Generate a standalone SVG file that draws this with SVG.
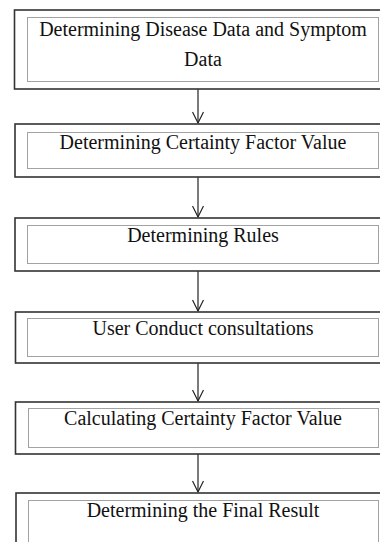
<svg xmlns="http://www.w3.org/2000/svg" width="380" height="542" viewBox="0 0 380 542">
<style>
.outer{fill:#fff;stroke:#333;stroke-width:1.6}
.inner{fill:none;stroke:#444;stroke-width:1;stroke-dasharray:1 1}
.t{font-family:"Liberation Serif","Times New Roman",serif;font-size:20px;fill:#111;text-anchor:middle}
.c{stroke:#222;stroke-width:1.2;fill:none}
</style>
<defs>
<marker id="ah" markerWidth="14" markerHeight="12" refX="12" refY="6" orient="auto" markerUnits="userSpaceOnUse">
<path d="M1,0.5 L12,6 L1,11.5" fill="none" stroke="#222" stroke-width="1.2"/>
</marker>
</defs>
<rect width="380" height="542" fill="#fff"/>
<g id="connectors">
<line class="c" x1="198" y1="89" x2="198" y2="123" marker-end="url(#ah)"/>
<line class="c" x1="198" y1="177" x2="198" y2="217" marker-end="url(#ah)"/>
<line class="c" x1="198" y1="271" x2="198" y2="311" marker-end="url(#ah)"/>
<line class="c" x1="198" y1="363" x2="198" y2="401" marker-end="url(#ah)"/>
<line class="c" x1="198" y1="454" x2="198" y2="492" marker-end="url(#ah)"/>
</g>
<g id="node1">
<rect class="outer" x="14.5" y="10" width="380" height="79"/>
<rect class="inner" x="27.5" y="17.5" width="351" height="64"/>
<text class="t" x="203" y="36">Determining Disease Data and Symptom</text>
<text class="t" x="203" y="66">Data</text>
</g>
<g id="node2">
<rect class="outer" x="15" y="124" width="380" height="53"/>
<rect class="inner" x="27.5" y="132.5" width="351" height="36"/>
<text class="t" x="203" y="149">Determining Certainty Factor Value</text>
</g>
<g id="node3">
<rect class="outer" x="15" y="218" width="380" height="53"/>
<rect class="inner" x="27.5" y="225.5" width="351" height="38"/>
<text class="t" x="203" y="242">Determining Rules</text>
</g>
<g id="node4">
<rect class="outer" x="15.5" y="312" width="380" height="51"/>
<rect class="inner" x="27.5" y="318.5" width="351" height="38"/>
<text class="t" x="203" y="335">User Conduct consultations</text>
</g>
<g id="node5">
<rect class="outer" x="15.5" y="402" width="380" height="52"/>
<rect class="inner" x="28.5" y="408.5" width="350" height="39"/>
<text class="t" x="203" y="425">Calculating Certainty Factor Value</text>
</g>
<g id="node6">
<rect class="outer" x="16" y="493" width="380" height="60"/>
<rect class="inner" x="28.5" y="500.5" width="350" height="50"/>
<text class="t" x="203" y="517">Determining the Final Result</text>
</g>
</svg>
